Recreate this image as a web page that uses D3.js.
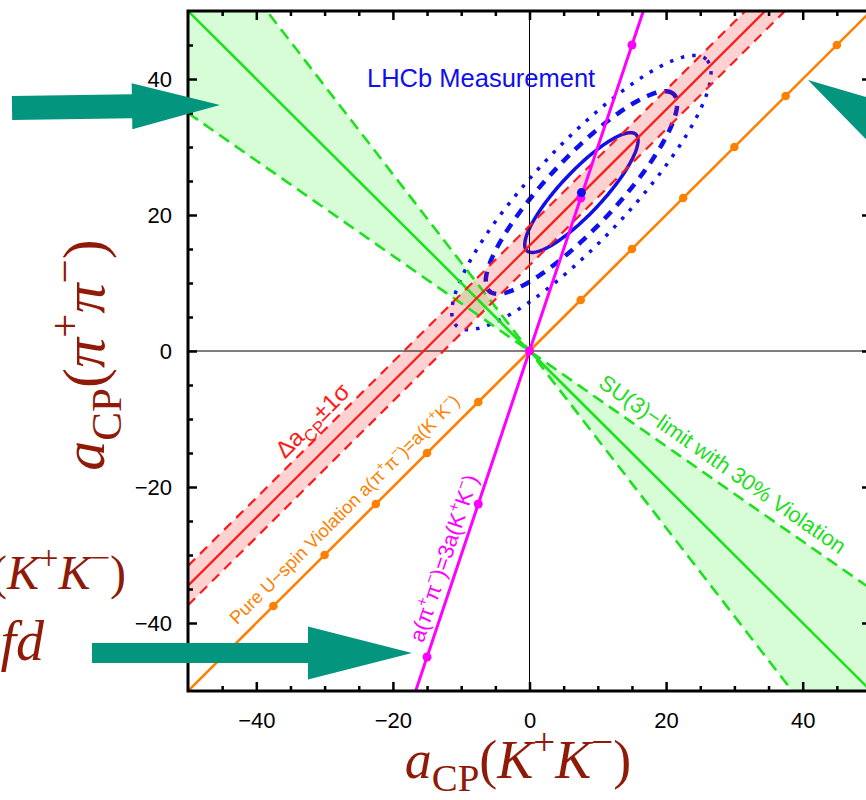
<!DOCTYPE html>
<html><head><meta charset="utf-8">
<script src="https://cdn.jsdelivr.net/npm/d3@7"></script>
<style>body{margin:0;background:#fff}svg{display:block}</style>
</head><body>
<svg id="chart" width="866" height="800"></svg>
<script>
// ---------------- data ----------------
const xMajorTicks = [-40, -20, 0, 20, 40];
const yMajorTicks = [-40, -20, 0, 20, 40];
const minorTicks = [-45, -35, -30, -25, -15, -10, -5, 5, 10, 15, 25, 30, 35, 45];
const su3CentralSlope = -1.0;
const su3BoundSlopes = [-0.7, -1.3];          // 30% violation
const deltaAcpCenter = 15.5;                  // a(pi pi) = a(KK) + c
const deltaAcpSigma = 2.9;
const uspinSlope = 1;                         // a(pi pi) = a(KK)
const tripleSlope = 3;                        // a(pi pi) = 3 a(KK)
const meshX = [-45, -37.5, -30, -22.5, -15, -7.5, 0, 7.5, 15, 22.5, 30, 37.5, 45];
const lhcbCenter = [7.6, 23.3];
const ellipseSemiMajor = [11.7, 19.8, 26.8];
const ellipseSemiMinor = [3.1, 5.1, 7.0];
const ellipseAngleDeg = 47;
const ellipseDash = ["none", "10,8", "3.5,8"];
const ellipseWidth = [3.5, 4.5, 3.5];

// ---------------- setup ----------------
const svg = d3.select("#chart");
const x = d3.scaleLinear().domain([-50, 50]).range([188, 871]);
const y = d3.scaleLinear().domain([-50, 50]).range([691, 11]);
const X0 = x(-50), X1 = x(50), Y0 = y(50), Y1 = y(-50);

svg.append("defs").append("clipPath").attr("id", "clip")
  .append("rect").attr("x", X0).attr("y", Y0).attr("width", X1 - X0).attr("height", Y1 - Y0);
const plot = svg.append("g").attr("clip-path", "url(#clip)");

const line = d3.line().x(d => x(d[0])).y(d => y(d[1]));
const xs = [-50, 0, 50];
const lin = (m, b) => xs.map(v => [v, m * v + b]);

const GREEN = "#1ee01e", RED = "#ff1a1a", ORANGE = "#ff8000", MAGENTA = "#ff00ff", BLUE = "#1010ec";

// green SU(3) wedge fill
plot.append("path")
  .attr("d", d3.area().x(d => x(d)).y0(d => y(su3BoundSlopes[0] * d)).y1(d => y(su3BoundSlopes[1] * d))(xs))
  .attr("fill", "rgba(0,240,0,0.16)");

// LHCb ellipses
const th = ellipseAngleDeg * Math.PI / 180;
const tParam = d3.range(0, 361, 2).map(a => a * Math.PI / 180);
ellipseSemiMajor.forEach((A, i) => {
  const B = ellipseSemiMinor[i];
  const pts = tParam.map(t => {
    const u = A * Math.cos(t), v = B * Math.sin(t);
    return [lhcbCenter[0] + u * Math.cos(th) - v * Math.sin(th),
            lhcbCenter[1] + u * Math.sin(th) + v * Math.cos(th)];
  });
  plot.append("path").attr("d", line(pts) + "Z")
    .attr("fill", "none").attr("stroke", BLUE)
    .attr("stroke-width", ellipseWidth[i])
    .attr("stroke-dasharray", ellipseDash[i]);
});

// red band fill
plot.append("path")
  .attr("d", d3.area().x(d => x(d)).y0(d => y(d + deltaAcpCenter - deltaAcpSigma)).y1(d => y(d + deltaAcpCenter + deltaAcpSigma))(xs))
  .attr("fill", "rgba(255,0,0,0.18)");

// zero axes
plot.append("line").attr("x1", x(0)).attr("x2", x(0)).attr("y1", Y0).attr("y2", Y1).attr("stroke", "#000").attr("stroke-width", 1);
plot.append("line").attr("x1", X0).attr("x2", X1).attr("y1", y(0)).attr("y2", y(0)).attr("stroke", "#000").attr("stroke-width", 1);

// green lines
su3BoundSlopes.forEach(m => plot.append("path").attr("d", line(lin(m, 0)))
  .attr("fill", "none").attr("stroke", GREEN).attr("stroke-width", 2.6).attr("stroke-dasharray", "12,7"));
plot.append("path").attr("d", line(lin(su3CentralSlope, 0)))
  .attr("fill", "none").attr("stroke", GREEN).attr("stroke-width", 2.6);

// red lines
[-1, 1].forEach(s => plot.append("path").attr("d", line(lin(1, deltaAcpCenter + s * deltaAcpSigma)))
  .attr("fill", "none").attr("stroke", RED).attr("stroke-width", 2.2).attr("stroke-dasharray", "10,7"));
plot.append("path").attr("d", line(lin(1, deltaAcpCenter)))
  .attr("fill", "none").attr("stroke", RED).attr("stroke-width", 2.2);

// orange U-spin line
plot.append("path").attr("d", line(lin(uspinSlope, 0)))
  .attr("fill", "none").attr("stroke", ORANGE).attr("stroke-width", 2.6);
plot.selectAll("circle.o").data(meshX).join("circle").attr("class", "o")
  .attr("cx", d => x(d)).attr("cy", d => y(uspinSlope * d)).attr("r", 4.3).attr("fill", ORANGE);

// magenta line
plot.append("path").attr("d", line(lin(tripleSlope, 0)))
  .attr("fill", "none").attr("stroke", MAGENTA).attr("stroke-width", 3);
plot.selectAll("circle.m").data(meshX).join("circle").attr("class", "m")
  .attr("cx", d => x(d)).attr("cy", d => y(tripleSlope * d)).attr("r", 4.5).attr("fill", MAGENTA);

// LHCb central value
plot.append("circle").attr("cx", x(lhcbCenter[0])).attr("cy", y(lhcbCenter[1])).attr("r", 4.5).attr("fill", BLUE);

// ---------------- rich text helper ----------------
function rich(sel, parts, fs, supScale, subShift) {
  let shift = 0;
  parts.forEach(p => {
    const target = p.sub ? (subShift || 0.28) * fs : p.sup ? -0.42 * fs : 0;
    const ts = sel.append("tspan").text(p.t).attr("dy", target - shift);
    if (p.sub || p.sup) ts.attr("font-size", (supScale || 0.7) * fs);
    if (p.i) ts.attr("font-style", "italic");
    shift = target;
  });
}
function along(xd, m, b, off, parts, fs, color) {
  const px = x(xd), py = y(m * xd + b);
  const ang = Math.atan2(y(m * (xd + 1) + b) - py, x(xd + 1) - px) * 180 / Math.PI;
  const t = plot.append("text")
    .attr("transform", `translate(${px},${py}) rotate(${ang})`)
    .attr("y", -off).attr("text-anchor", "middle")
    .attr("font-family", "Liberation Sans, Arial, sans-serif")
    .attr("font-size", fs).attr("fill", color);
  rich(t, parts, fs);
}

// annotations
plot.append("text").attr("x", 367).attr("y", 87).text("LHCb Measurement")
  .attr("font-family", "Liberation Sans, Arial, sans-serif").attr("font-size", 25.5).attr("fill", BLUE);

along(-30.2, 1, deltaAcpCenter + deltaAcpSigma, 7,
  [{t: "Δa"}, {t: "CP", sub: true}, {t: "±1σ"}], 24, RED);
along(-25.2, uspinSlope, 0, 12,
  [{t: "Pure U−spin Violation a(π"}, {t: "+", sup: true}, {t: "π"}, {t: "−", sup: true},
   {t: ")=a(K"}, {t: "+", sup: true}, {t: "K"}, {t: "−", sup: true}, {t: ")"}], 18.3, ORANGE);
along(-10.4, tripleSlope, 0, 8,
  [{t: "a(π"}, {t: "+", sup: true}, {t: "π"}, {t: "−", sup: true},
   {t: ")=3a(K"}, {t: "+", sup: true}, {t: "K"}, {t: "−", sup: true}, {t: ")"}], 22, MAGENTA);
along(26.8, su3BoundSlopes[0], 0, 10,
  [{t: "SU(3)−limit with 30% Violation"}], 22, GREEN);

// ---------------- frame and ticks ----------------
const fr = svg.append("g");
function ticks(axisGen, tx, ty, vals, size, fmt) {
  const g = fr.append("g").attr("transform", `translate(${tx},${ty})`)
    .call(axisGen.tickValues(vals).tickSizeInner(size).tickSizeOuter(0).tickFormat(fmt));
  g.select(".domain").remove();
  g.selectAll(".tick line").attr("stroke", "#000").attr("stroke-width", 2.5);
  return g;
}
const fmt = d3.format("d");
const gb = ticks(d3.axisBottom(x).tickPadding(21), 0, Y1, xMajorTicks, -9, fmt);
ticks(d3.axisBottom(x), 0, Y1, minorTicks, -5, "");
ticks(d3.axisTop(x), 0, Y0, xMajorTicks, -9, "");
ticks(d3.axisTop(x), 0, Y0, minorTicks, -5, "");
const gl = ticks(d3.axisLeft(y).tickPadding(16), X0, 0, yMajorTicks, -9, fmt);
ticks(d3.axisLeft(y), X0, 0, minorTicks, -5, "");
ticks(d3.axisRight(y), X1, 0, yMajorTicks, -9, "");
ticks(d3.axisRight(y), X1, 0, minorTicks, -5, "");
[gb, gl].forEach(g => g.selectAll("text").attr("font-family", "Liberation Sans, Arial, sans-serif")
  .attr("font-size", 22).attr("fill", "#000"));

fr.append("rect").attr("x", X0).attr("y", Y0).attr("width", X1 - X0).attr("height", Y1 - Y0)
  .attr("fill", "none").attr("stroke", "#000").attr("stroke-width", 3);

// ---------------- axis titles ----------------
const DARKRED = "#8f1a08";
const SERIF = "Liberation Serif, Times New Roman, serif";
const xl = svg.append("text").attr("x", 518).attr("y", 778).attr("text-anchor", "middle")
  .attr("font-family", SERIF).attr("font-size", 54).attr("fill", DARKRED);
rich(xl, [{t: "a", i: true}, {t: "CP", sub: true}, {t: "("}, {t: "K", i: true}, {t: "+", sup: true},
  {t: "K", i: true}, {t: "−", sup: true}, {t: ")"}], 54, 0.72, 0.24);
const yl = svg.append("text").attr("transform", "translate(104,355) rotate(-90)").attr("text-anchor", "middle")
  .attr("font-family", SERIF).attr("font-size", 60).attr("fill", DARKRED);
rich(yl, [{t: "a", i: true}, {t: "CP", sub: true}, {t: "("}, {t: "π", i: true}, {t: "+", sup: true},
  {t: "π", i: true}, {t: "−", sup: true}, {t: ")"}], 60, 0.72);

// cut-off fragments of neighbouring slide text
const f1 = svg.append("text").attr("x", 126).attr("y", 589).attr("text-anchor", "end")
  .attr("font-family", SERIF).attr("font-size", 48).attr("fill", DARKRED);
rich(f1, [{t: "a", i: true}, {t: "("}, {t: "K", i: true}, {t: "+", sup: true}, {t: "K", i: true}, {t: "−", sup: true}, {t: ")"}], 48, 0.72);
svg.append("text").attr("x", 44).attr("y", 660).attr("text-anchor", "end")
  .attr("font-family", SERIF).attr("font-size", 56)
  .attr("font-style", "italic").attr("fill", DARKRED).text("fd");

// ---------------- teal arrows ----------------
const TEAL = "#04957f";
function arrow(tail, tip, shaftHalf, headHalf, headLen) {
  const dx = tip[0] - tail[0], dy = tip[1] - tail[1], L = Math.hypot(dx, dy);
  const ux = dx / L, uy = dy / L, nx = -uy, ny = ux;
  const bx = tip[0] - ux * headLen, by = tip[1] - uy * headLen;
  const P = [
    [tail[0] + nx * shaftHalf, tail[1] + ny * shaftHalf],
    [bx + nx * shaftHalf, by + ny * shaftHalf],
    [bx + nx * headHalf, by + ny * headHalf],
    tip,
    [bx - nx * headHalf, by - ny * headHalf],
    [bx - nx * shaftHalf, by - ny * shaftHalf],
    [tail[0] - nx * shaftHalf, tail[1] - ny * shaftHalf]];
  svg.append("polygon").attr("points", P.map(p => p.join(",")).join(" ")).attr("fill", TEAL);
}
arrow([12, 108], [220, 105], 12, 23, 88);
arrow([92, 653], [412, 653], 10, 26.5, 104);
arrow([808 + 220 * 0.857, 80 + 220 * 0.515], [808, 80], 11, 26, 100);
</script>
</body></html>
